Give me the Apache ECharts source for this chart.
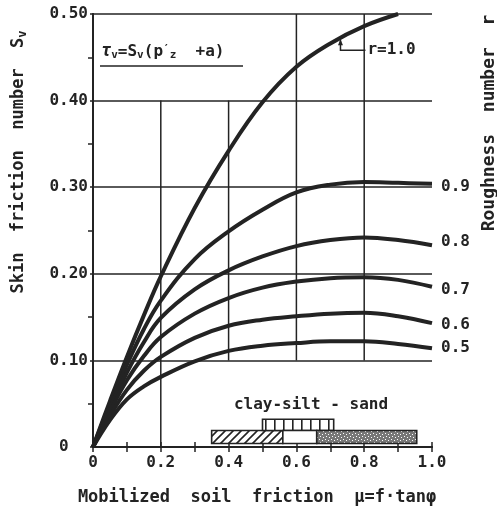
<!DOCTYPE html>
<html><head><meta charset="utf-8">
<script src="https://cdn.jsdelivr.net/npm/echarts@6/dist/echarts.min.js"></script>
<style>html,body{margin:0;padding:0;background:#fff}#c{width:497px;height:511px}</style>
</head><body><div id="c"></div>
<script>
// ---- data ----
const muValues = [0, 0.05, 0.1, 0.15, 0.2, 0.3, 0.4, 0.5, 0.6, 0.7, 0.8, 0.9, 1.0];
const svR10 = [0, 0.053, 0.104, 0.152, 0.197, 0.276, 0.342, 0.398, 0.439, 0.466, 0.486, 0.500, null];
const svR09 = [0, 0.049, 0.095, 0.136, 0.169, 0.217, 0.249, 0.274, 0.294, 0.303, 0.306, 0.305, 0.304];
const svR08 = [0, 0.045, 0.086, 0.121, 0.149, 0.182, 0.204, 0.220, 0.232, 0.239, 0.242, 0.239, 0.233];
const svR07 = [0, 0.041, 0.077, 0.105, 0.127, 0.154, 0.172, 0.184, 0.191, 0.195, 0.196, 0.193, 0.185];
const svR06 = [0, 0.036, 0.066, 0.088, 0.104, 0.126, 0.140, 0.147, 0.151, 0.154, 0.155, 0.151, 0.143];
const svR05 = [0, 0.031, 0.055, 0.070, 0.081, 0.099, 0.111, 0.117, 0.120, 0.122, 0.122, 0.119, 0.114];
const roughness = ['1.0', '0.9', '0.8', '0.7', '0.6', '0.5'];
const seriesValues = [svR10, svR09, svR08, svR07, svR06, svR05];

// partial vertical grid lines: [mu, svFrom, svTo]
const gridMu = [0.2, 0.4, 0.6, 0.8];
const gridFrom = [0, 0.1, 0.1, 0.1];
const gridTo = [0.4, 0.4, 0.5, 0.5];

// soil type bars at the bottom
const soilKind = ['clay', 'silt', 'mixed', 'sand'];
const soilFrom = [0.35, 0.50, 0.56, 0.66];
const soilTo = [0.56, 0.71, 0.66, 0.955];
const soilRow = [0, 1, 0, 0];
const rowBottom = [0.004, 0.019];
const rowTop = [0.019, 0.032];

// ---- styles ----
const INK = '#232323';
const FONT = '"DejaVu Sans Mono", monospace';

function makePattern(kind) {
  const c = document.createElement('canvas');
  const ctx = c.getContext('2d');
  if (kind === 'clay') {
    c.width = 8; c.height = 8;
    ctx.fillStyle = '#fff'; ctx.fillRect(0, 0, 8, 8);
    ctx.strokeStyle = INK; ctx.lineWidth = 1.6;
    ctx.beginPath();
    ctx.moveTo(-2, 10); ctx.lineTo(10, -2);
    ctx.moveTo(-10, 10); ctx.lineTo(2, -2);
    ctx.moveTo(6, 10); ctx.lineTo(18, -2);
    ctx.stroke();
  } else if (kind === 'silt') {
    c.width = 9; c.height = 9;
    ctx.fillStyle = '#fff'; ctx.fillRect(0, 0, 9, 9);
    ctx.fillStyle = INK; ctx.fillRect(4, 0, 1.6, 9);
  } else if (kind === 'sand') {
    c.width = 6; c.height = 6;
    ctx.fillStyle = '#777'; ctx.fillRect(0, 0, 6, 6);
    ctx.fillStyle = '#fff';
    ctx.fillRect(1, 1, 1, 1); ctx.fillRect(4, 2, 1, 1); ctx.fillRect(2, 4, 1, 1); ctx.fillRect(5, 5, 1, 1);
  } else {
    c.width = 4; c.height = 4;
    ctx.fillStyle = '#fff'; ctx.fillRect(0, 0, 4, 4);
  }
  return { image: c, repeat: 'repeat' };
}
const patterns = soilKind.map(makePattern);

const chart = echarts.init(document.getElementById('c'), null, { renderer: 'canvas' });

const labelFont = { fontFamily: FONT, fontSize: 16, fontWeight: 'bold', color: INK };
const endOffsets = [[0, 0], [0, 3], [0, -3], [0, 3], [0, 2], [0, 0]];

const lineSeries = seriesValues.map((vals, i) => ({
  type: 'line',
  name: roughness[i],
  data: muValues.map((m, j) => [m, vals[j]]),
  showSymbol: false,
  symbol: 'none',
  smooth: 0.4,
  connectNulls: false,
  clip: true,
  z: 5,
  lineStyle: { color: INK, width: 4 },
  endLabel: i === 0 ? { show: false } : {
    show: true,
    formatter: roughness[i],
    distance: 9,
    offset: endOffsets[i],
    ...labelFont
  },
  emphasis: { disabled: true }
}));

const gridSeries = {
  type: 'custom',
  z: 2,
  silent: true,
  data: gridMu.map((m, i) => [m, gridFrom[i], gridTo[i]]),
  renderItem: (params, api) => {
    const a = api.coord([api.value(0), api.value(1)]);
    const b = api.coord([api.value(0), api.value(2)]);
    return { type: 'line', shape: { x1: a[0], y1: a[1], x2: b[0], y2: b[1] }, style: { stroke: INK, lineWidth: 1.5 } };
  }
};

const soilSeries = {
  type: 'custom',
  z: 3,
  silent: true,
  data: soilFrom.map((f, i) => [f, soilTo[i], rowBottom[soilRow[i]], rowTop[soilRow[i]], i]),
  renderItem: (params, api) => {
    const p0 = api.coord([api.value(0), api.value(3)]);
    const p1 = api.coord([api.value(1), api.value(2)]);
    return {
      type: 'rect',
      shape: { x: p0[0], y: p0[1], width: p1[0] - p0[0], height: p1[1] - p0[1] },
      style: { fill: patterns[api.value(4)], stroke: INK, lineWidth: 1.6 }
    };
  }
};

const axisLine = { show: true, lineStyle: { color: INK, width: 2 } };

chart.setOption({
  animation: false,
  backgroundColor: '#fff',
  grid: { left: 93, right: 65, top: 14, bottom: 64, containLabel: false },
  xAxis: [{
    type: 'value', min: 0, max: 1, interval: 0.1, position: 'bottom',
    axisLine, splitLine: { show: false },
    axisTick: { show: true, inside: true, length: 5, lineStyle: { color: INK, width: 1.5 } },
    axisLabel: {
      ...labelFont, margin: 8,
      formatter: v => { const t = Math.round(v * 10); return t % 2 === 0 ? (t === 0 ? '0' : (t / 10).toFixed(1)) : ''; }
    }
  }, {
    type: 'value', min: 0, max: 1, interval: 0.1, position: 'top',
    axisLine, splitLine: { show: false }, axisLabel: { show: false },
    axisTick: { show: true, inside: true, length: 5, lineStyle: { color: INK, width: 1.5 } }
  }],
  yAxis: [{
    type: 'value', min: 0, max: 0.5, interval: 0.1, position: 'left',
    axisLine,
    axisTick: { show: true, inside: false, length: 3, lineStyle: { color: INK, width: 1.5 } },
    minorTick: { show: true, splitNumber: 2, length: 5, lineStyle: { color: INK, width: 1.5 } },
    splitLine: { show: true, lineStyle: { color: INK, width: 1.5 } },
    axisLabel: { ...labelFont, margin: 5, formatter: v => v === 0 ? '0  ' : v.toFixed(2) }
  }, {
    type: 'value', min: 0, max: 0.5, interval: 0.1, position: 'right',
    axisLine, axisLabel: { show: false }, splitLine: { show: false },
    axisTick: { show: false, inside: true },
    minorTick: { show: true, splitNumber: 2, length: 5, lineStyle: { color: INK, width: 1.5 } }
  }],
  series: [gridSeries, soilSeries, ...lineSeries]
});

// ---- annotations ----
const tip = chart.convertToPixel({ xAxisIndex: 0, yAxisIndex: 0 }, [0.73, 0.472]);
const elbowY = tip[1] + 12;
const textStyle = (t, extra) => Object.assign({ text: t, fontFamily: FONT, fontSize: 16, fontWeight: 'bold', fill: INK }, extra || {});

chart.setOption({
  graphic: [
    { type: 'text', x: 19, y: 162, rotation: Math.PI / 2,
      style: { text: 'Skin  friction  number  S{s|v}', fontFamily: FONT, fontSize: 17, fontWeight: 'bold', fill: INK,
        align: 'center', verticalAlign: 'middle',
        rich: { s: { fontFamily: FONT, fontSize: 12, fontWeight: 'bold', fill: INK, padding: [8, 0, 0, 0] } } } },
    { type: 'text', x: 489, y: 123, rotation: Math.PI / 2,
      style: textStyle('Roughness  number  r', { fontSize: 18, align: 'center', verticalAlign: 'middle' }) },
    { type: 'text', x: 257, y: 498,
      style: textStyle('Mobilized  soil  friction  μ=f·tanφ', { fontSize: 17, align: 'center', verticalAlign: 'middle' }) },
    { type: 'text', x: 101, y: 52,
      style: { text: '{t|τ}{s|v}=S{s|v}(p{q|\u2032}{s|z}  +a)', fontFamily: FONT, fontSize: 16, fontWeight: 'bold', fill: INK,
        align: 'left', verticalAlign: 'middle',
        rich: {
          t: { fontFamily: FONT, fontSize: 17, fontStyle: 'italic', fontWeight: 'bold', fill: INK },
          s: { fontFamily: FONT, fontSize: 11, fontWeight: 'bold', fill: INK, padding: [7, 0, 0, 0] },
          q: { fontFamily: FONT, fontSize: 11, fontWeight: 'bold', fill: INK, padding: [0, 0, 6, 0] }
        } } },
    { type: 'line', shape: { x1: 100, y1: 66, x2: 243, y2: 66 }, style: { stroke: INK, lineWidth: 1.6 } },
    { type: 'text', x: 311, y: 405, style: textStyle('clay-silt - sand', { align: 'center', verticalAlign: 'middle' }) },
    { type: 'polyline', shape: { points: [[tip[0], tip[1] + 2], [tip[0], elbowY], [tip[0] + 25, elbowY]] },
      style: { stroke: INK, lineWidth: 1.5, fill: null } },
    { type: 'polygon', shape: { points: [[tip[0], tip[1] + 1], [tip[0] - 2.5, tip[1] + 7], [tip[0] + 2.5, tip[1] + 7]] },
      style: { fill: INK } },
    { type: 'text', x: tip[0] + 27, y: elbowY, style: textStyle('r=1.0', { align: 'left', verticalAlign: 'middle' }) }
  ]
});
</script>
</body></html>
